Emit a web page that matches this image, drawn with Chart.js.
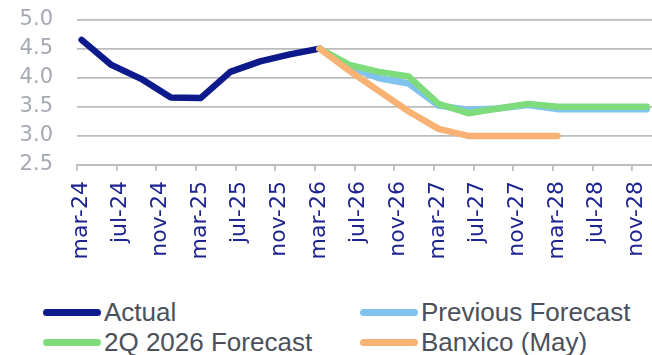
<!DOCTYPE html>
<html>
<head>
<meta charset="utf-8">
<title>Inflation forecasts</title>
<script src="https://cdn.jsdelivr.net/npm/chart.js@4/dist/chart.umd.min.js"></script>
<style>
  html, body { margin: 0; padding: 0; background: #ffffff; }
  #wrap { position: relative; width: 652px; height: 355px; overflow: hidden; }
  #chart { position: absolute; left: 0; top: 0; }
  .item {
    position: absolute; height: 30px; display: flex; align-items: center;
    white-space: nowrap; font-family: "Liberation Sans", Arial, sans-serif;
    font-size: 26px; color: #4b505b;
  }
  .swatch { width: 58px; height: 7px; border-radius: 4px; margin-right: 3px; flex: none; }
</style>
</head>
<body>
<div id="wrap">
  <canvas id="chart" width="652" height="292"></canvas>
  <div id="legend"></div>
</div>
<script>
// Axis labels, one every four months starting March 2024
const tickLabels = ['mar-24', 'jul-24', 'nov-24', 'mar-25', 'jul-25', 'nov-25', 'mar-26',
  'jul-26', 'nov-26', 'mar-27', 'jul-27', 'nov-27', 'mar-28', 'jul-28', 'nov-28'];

// Quarterly observation dates (mid-month of each quarter's last month)
const quarterDates = ['2024-03-15', '2024-06-15', '2024-09-15', '2024-12-15',
  '2025-03-15', '2025-06-15', '2025-09-15', '2025-12-15',
  '2026-03-15', '2026-06-15', '2026-09-15', '2026-12-15',
  '2027-03-15', '2027-06-15', '2027-09-15', '2027-12-15',
  '2028-03-15', '2028-06-15', '2028-09-15', '2028-12-15'];

// Annual inflation, %
const actual = [4.65, 4.22, 3.98, 3.66, 3.65, 4.10, 4.28, 4.40, 4.50,
  null, null, null, null, null, null, null, null, null, null, null];
const previousForecast = [null, null, null, null, null, null, null, null, 4.50,
  4.18, 3.99, 3.90, 3.52, 3.45, 3.47, 3.53, 3.46, 3.46, 3.46, 3.46];
const forecast2Q2026 = [null, null, null, null, null, null, null, null, 4.50,
  4.22, 4.10, 4.02, 3.55, 3.39, 3.47, 3.55, 3.50, 3.50, 3.50, 3.50];
const banxicoMay = [null, null, null, null, null, null, null, null, 4.50,
  4.12, 3.77, 3.42, 3.12, 3.00, 3.00, 3.00, 3.00, null, null, null];

const yTicks = [2.5, 3.0, 3.5, 4.0, 4.5, 5.0];

// Months elapsed since 1 March 2024
function monthsFromStart(iso) {
  const [y, m, d] = iso.split('-').map(Number);
  return (y - 2024) * 12 + (m - 3) + (d - 1) / 30;
}
function toPoints(values) {
  return values.map((v, i) => ({ x: monthsFromStart(quarterDates[i]), y: v }));
}

const series = [
  { label: 'Actual', values: actual, color: '#0d1a8c', order: 3 },
  { label: 'Previous Forecast', values: previousForecast, color: '#80c3ef', order: 2 },
  { label: '2Q 2026 Forecast', values: forecast2Q2026, color: '#7edc7c', order: 1 },
  { label: 'Banxico (May)', values: banxicoMay, color: '#f8b274', order: 0 }
];

const AXIS_LEFT = 77, AXIS_TOP = 19.5, AXIS_BOTTOM = 165, CANVAS_H = 292;
const GRID = '#bcbcbc';

new Chart(document.getElementById('chart'), {
  type: 'line',
  data: {
    datasets: series.map(s => ({
      label: s.label,
      data: toPoints(s.values),
      borderColor: s.color,
      backgroundColor: s.color,
      borderWidth: 6.5,
      order: s.order,
      spanGaps: false
    }))
  },
  options: {
    responsive: false,
    animation: false,
    layout: { padding: { top: AXIS_TOP, left: 0, right: 0, bottom: 0 } },
    plugins: { legend: { display: false }, tooltip: { enabled: false } },
    elements: {
      point: { radius: 0 },
      line: { tension: 0, borderCapStyle: 'round', borderJoinStyle: 'round' }
    },
    scales: {
      x: {
        type: 'linear',
        min: 0,
        max: 58,
        grid: { drawOnChartArea: false, drawTicks: true, tickLength: 6, color: GRID, lineWidth: 1.75 },
        border: { display: true, color: GRID, width: 1.75 },
        ticks: {
          autoSkip: false,
          maxRotation: 90,
          minRotation: 90,
          padding: 10,
          labelOffset: 4,
          color: '#1e248f',
          font: { family: 'DejaVu Sans', size: 22 },
          callback: v => tickLabels[Math.round(v / 4)]
        },
        afterBuildTicks: s => { s.ticks = tickLabels.map((_, i) => ({ value: i * 4 })); },
        afterFit: s => { s.height = CANVAS_H - AXIS_BOTTOM; s.paddingLeft = 0; s.paddingRight = 0; }
      },
      y: {
        min: 2.5,
        max: 5.0,
        grid: { color: GRID, lineWidth: 1.75, drawTicks: false },
        border: { display: false },
        ticks: {
          autoSkip: false,
          padding: 24,
          color: '#a5a9b2',
          font: { family: 'DejaVu Sans', size: 21 },
          callback: v => Number(v).toFixed(1)
        },
        afterBuildTicks: s => { s.ticks = yTicks.map(v => ({ value: v })); },
        afterFit: s => { s.width = AXIS_LEFT; s.paddingTop = 0; s.paddingBottom = 0; }
      }
    }
  }
});

// Legend in two columns below the plot
const legendSlots = [
  { left: 43, top: 297 }, { left: 360, top: 297 },
  { left: 43, top: 327 }, { left: 360, top: 327 }
];
const legend = document.getElementById('legend');
series.forEach((s, i) => {
  const item = document.createElement('div');
  item.className = 'item';
  item.style.left = legendSlots[i].left + 'px';
  item.style.top = legendSlots[i].top + 'px';
  const sw = document.createElement('span');
  sw.className = 'swatch';
  sw.style.background = s.color;
  const txt = document.createElement('span');
  txt.textContent = s.label;
  item.appendChild(sw);
  item.appendChild(txt);
  legend.appendChild(item);
});
</script>
</body>
</html>
